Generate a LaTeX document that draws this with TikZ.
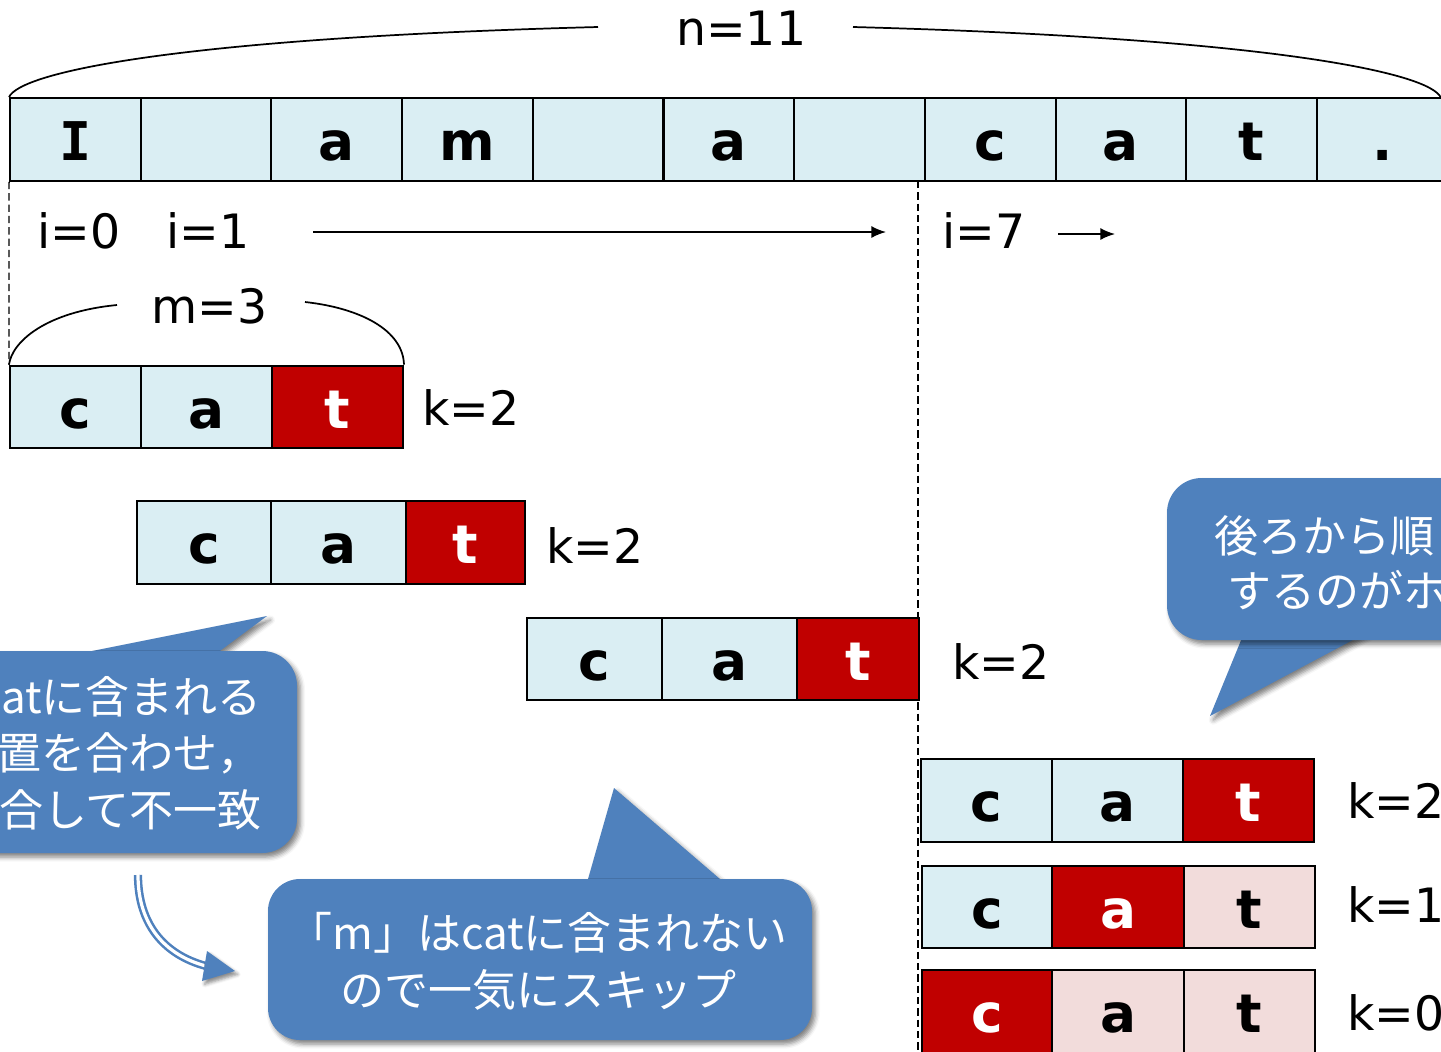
\documentclass[tikz,border=0pt]{standalone}
\usepackage{fontspec}
\setmainfont{DejaVu Sans}
\newfontfamily\cjk{Noto Sans CJK JP}
\newfontfamily\serifI{DejaVu Sans Mono}
\usetikzlibrary{shadows.blur,arrows.meta}
\definecolor{cellblue}{HTML}{DAEEF3}
\definecolor{cellred}{HTML}{C00000}
\definecolor{cellpink}{HTML}{F2DCDB}
\definecolor{callblue}{HTML}{4F81BD}
\tikzset{
  cell/.style={draw=black, line width=1.5pt, fill=cellblue, inner sep=0pt,
    text height=31.5pt, text depth=0pt, minimum height=62pt,
    font=\fontsize{40pt}{40pt}\selectfont\bfseries},
  hit/.style={cell, fill=cellred, text=white},
  done/.style={cell, fill=cellpink},
  lbl/.style={anchor=base west, inner sep=0pt, font=\fontsize{35.5pt}{35.5pt}\selectfont},
  bubble/.style={fill=callblue, blur shadow={shadow xshift=2.5pt, shadow yshift=-3pt, shadow blur radius=3.5pt, shadow opacity=50}},
  bubbletext/.style={text=white, inner sep=0pt, font=\cjk\fontsize{33pt}{42.5pt}\selectfont},
  brace/.style={line width=1.3pt},
  guide/.style={line width=1.1pt, dash pattern=on 5.5pt off 3pt},
  thinarrow/.style={line width=1.2pt, -{Latex[length=11pt,width=9pt]}}
}
\begin{document}
\begin{tikzpicture}[x=0.75pt,y=-0.75pt]
\useasboundingbox (0,0) rectangle (1441,1051);
\clip (0,0) rectangle (1441,1051);

% text row
\foreach \ch [count=\i from 0] in {{\serifI I}, ,a,m, ,a, ,c,a,t,.} {
  \node[cell, minimum width=98pt] (s\i) at ({10+130.7*(\i+0.5)},139.5) {\ch};
}

% n=11 brace
\node[lbl] (nlab) at (676,45) {n=11};
\coordinate (nbl) at (598,27);
\coordinate (nbr) at (853,27);
\coordinate (nend) at (1441,98);
\draw[brace] (s0.north west) .. controls (20,72) and (180,38) .. (nbl);
\draw[brace] (nbr) .. controls (1262,38) and (1431,72) .. (nend);

% index labels
\node[lbl] (i0) at (37,248) {i=0};
\node[lbl] (i1) at (166,248) {i=1};
\node[lbl] (i7) at (942,248) {i=7};
\coordinate (a1s) at (313,232);
\coordinate (a1e) at (886,232);
\coordinate (a2s) at (1058,234);
\coordinate (a2e) at (1115,234);
\draw[thinarrow] (a1s) -- (a1e);
\draw[thinarrow] (a2s) -- (a2e);

% pattern row 1
\node[cell, minimum width=98.25pt] (p1a) at (75.5,407) {c};
\node[cell, minimum width=98.25pt] (p1b) at (206.5,407) {a};
\node[hit, minimum width=98.25pt] (p1c) at (337.5,407) {t};
\node[lbl] (k1) at (422,425) {k=2};

% m=3 brace
\node[lbl] (mlab) at (151,323) {m=3};
\coordinate (mbl) at (117,305);
\coordinate (mbr) at (305,302);
\draw[brace] (p1a.north west) .. controls (12,342) and (45,312) .. (mbl);
\draw[brace] (mbr) .. controls (360,308) and (403,330) .. (p1c.north east);

% guides
\coordinate (g2t) at (918,181);
\coordinate (g2b) at (918,1060);
\draw[guide] (s0.south west) -- (p1a.north west);
\draw[guide] (g2t) -- (g2b);

% pattern row 2
\node[cell, minimum width=100.5pt] (p2a) at (204,542.5) {c};
\node[cell, minimum width=101.25pt] (p2b) at (338.5,542.5) {a};
\node[hit, minimum width=89.25pt] (p2c) at (465.5,542.5) {t};
\node[lbl] (k2) at (546,563) {k=2};

% pattern row 3
\node[cell, minimum width=101.25pt] (p3a) at (594.5,659) {c};
\node[cell, minimum width=101.25pt] (p3b) at (729.5,659) {a};
\node[hit, minimum width=91.5pt] (p3c) at (858,659) {t};
\node[lbl] (k3) at (952,679) {k=2};

% pattern rows 4-6
\node[cell, minimum width=98.25pt] (p4a) at (986.5,800.5) {c};
\node[cell, minimum width=98.25pt] (p4b) at (1117.5,800.5) {a};
\node[hit, minimum width=98.25pt] (p4c) at (1248.5,800.5) {t};
\node[lbl] (k4) at (1347,818) {k=2};

\node[cell, minimum width=98.25pt] (p5a) at (987,907) {c};
\node[hit, minimum width=99pt] (p5b) at (1118,907) {a};
\node[done, minimum width=98.25pt] (p5c) at (1249.5,907) {t};
\node[lbl] (k5) at (1347,922) {k=1};

\node[hit, minimum width=98.25pt] (p6a) at (987,1011.5) {c};
\node[done, minimum width=99pt] (p6b) at (1118,1011.5) {a};
\node[done, minimum width=98.25pt] (p6c) at (1249.5,1011.5) {t};
\node[lbl] (k6) at (1347,1030) {k=0};

% callout 1 (left)
\path[bubble] (67,656) -- (267,616) -- (213,656) -- cycle;
\path[bubble, rounded corners=26pt] (-300,651) rectangle (297,853);
\node[bubbletext, anchor=east, align=right] (t1) at (262,753) {atに含まれる\\置を合わせ，\\合して不一致};

% callout 2 (bottom)
\path[bubble] (586.6,884) -- (614,788) -- (725.8,884) -- cycle;
\node[bubble, rounded corners=24pt, minimum width=408pt, minimum height=120.75pt, inner sep=0pt] (c2) at (540,959.5) {};
\node[bubbletext, align=center] (t2) at (538,961.5) {「m」はcatに含まれない\\ので一気にスキップ};

% callout 3 (right)
\path[bubble] (1244,633) -- (1210,716) -- (1366,633) -- cycle;
\path[bubble, rounded corners=26pt] (1167,478) rectangle (1800,640);
\node[bubbletext, anchor=base west] (t3a) at (1214,552) {後ろから順};
\node[bubbletext, anchor=base west] (t3b) at (1227,607) {するのがホ};

% curved double arrow
\coordinate (d1) at (138,875);
\coordinate (d2) at (206,966);
\draw[callblue, line width=1.9pt, double=white, double distance=2.4pt] (d1) .. controls (138,925) and (165,955) .. (d2);
\path[fill=callblue, blur shadow={shadow xshift=2pt, shadow yshift=-2.5pt, shadow blur radius=2.5pt, shadow opacity=45}] (207,951) -- (235,971) -- (202,981) -- cycle;
\end{tikzpicture}
\end{document}
